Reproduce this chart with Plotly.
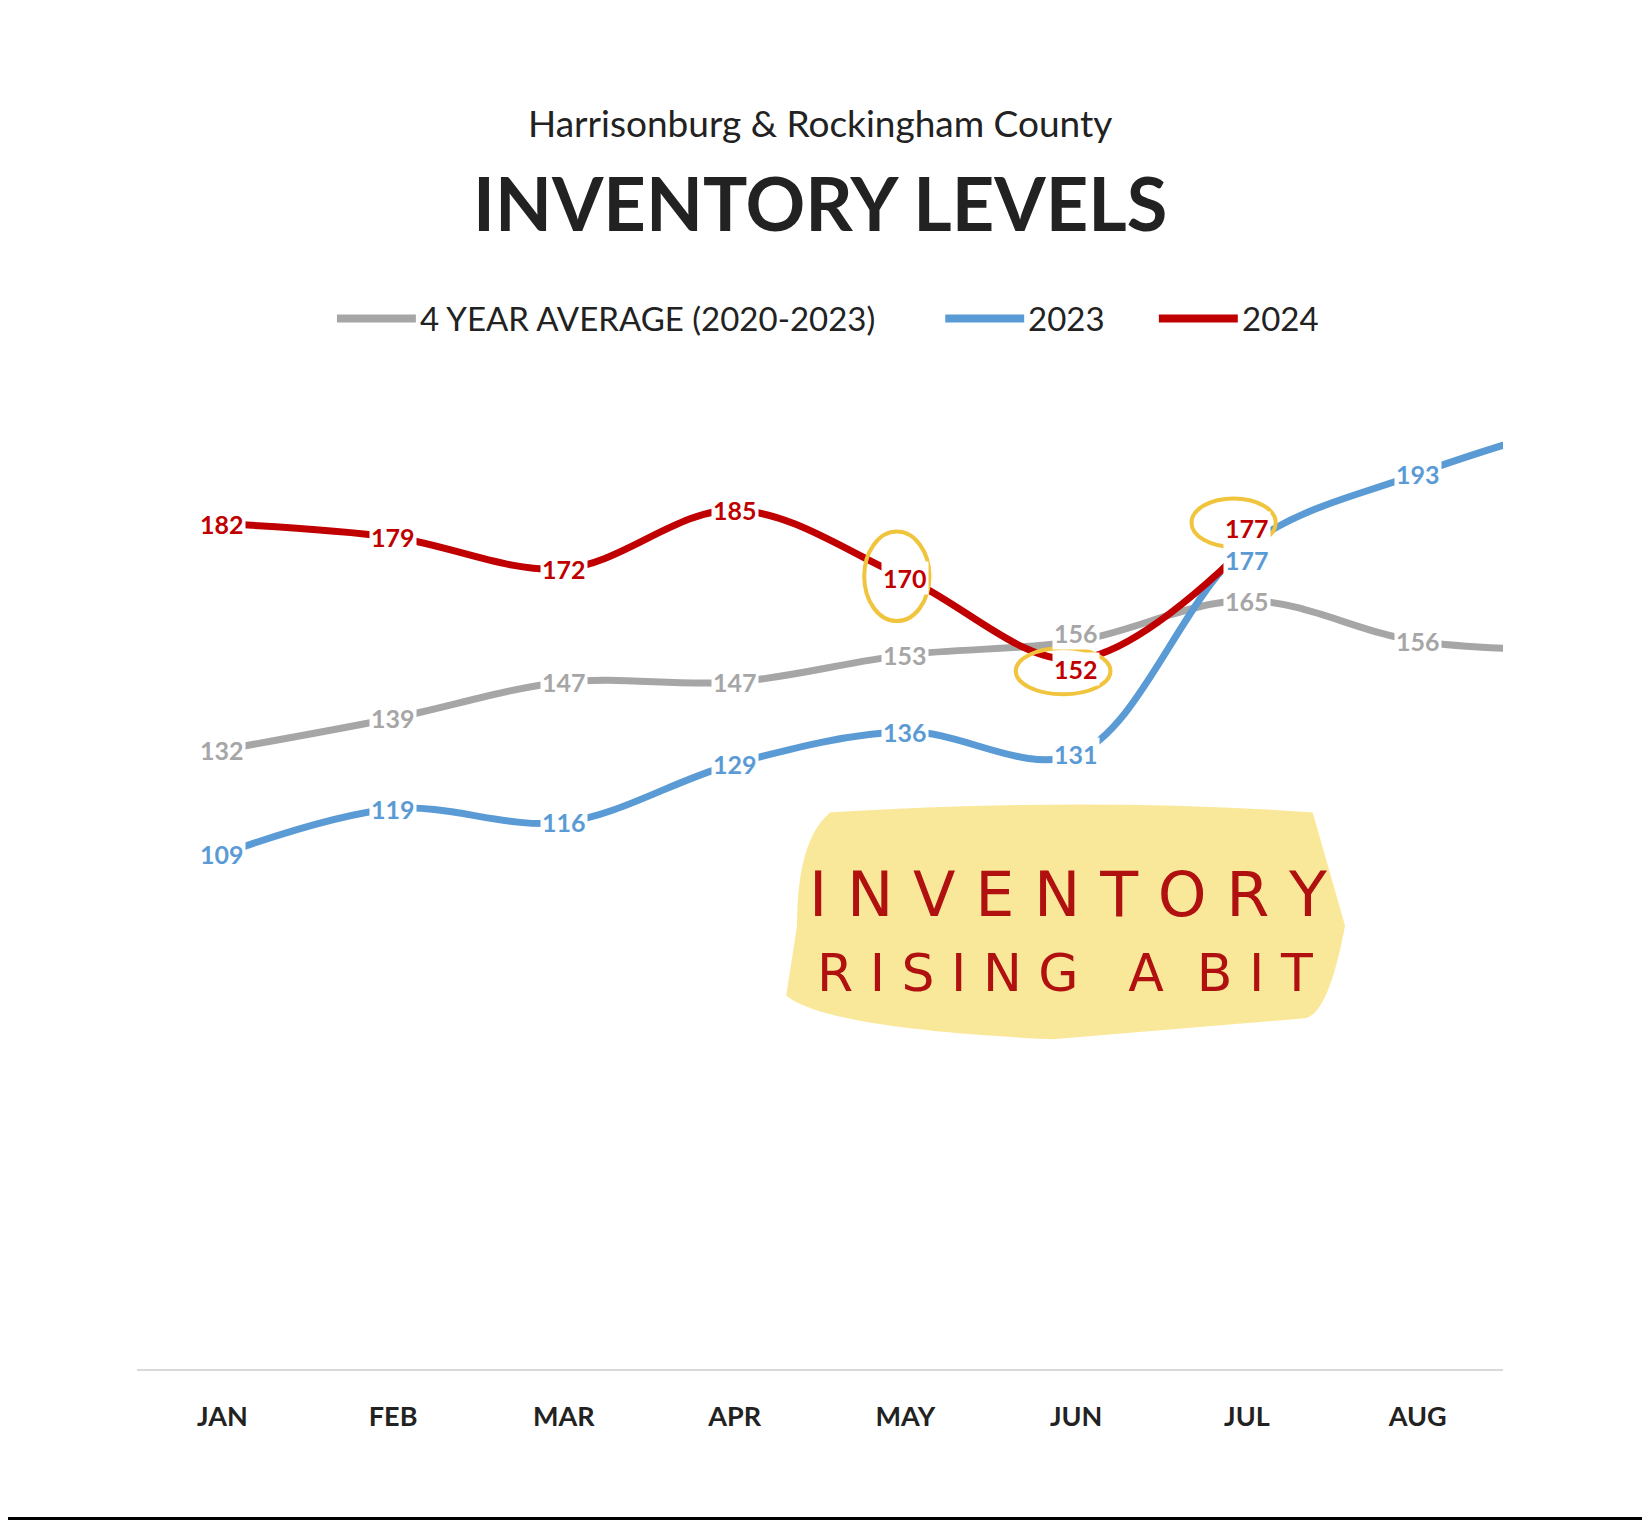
import plotly.graph_objects as go

months = ["JAN","FEB","MAR","APR","MAY","JUN","JUL","AUG"]
avg = [132,139,147,147,153,156,165,156,154]
y2023 = [109,119,116,129,136,131,177,193,205]
y2024 = [182,179,172,185,170,152,177]

S = 1650/1568
def px(x): return (x-130)/1298
def py(y): return (1302-y)/989

fig = go.Figure()
xs = list(range(9))
fig.add_trace(go.Scatter(x=xs, y=avg, mode="lines", line=dict(color="#a6a6a6", width=7, shape="spline"), hoverinfo="skip"))
fig.add_trace(go.Scatter(x=xs, y=y2023, mode="lines", line=dict(color="#5b9bd5", width=7, shape="spline"), hoverinfo="skip"))
fig.add_trace(go.Scatter(x=xs[:7], y=y2024, mode="lines", line=dict(color="#c00000", width=7, shape="spline"), hoverinfo="skip"))

ann = []
def lab(i, v, col, dy=0):
    ann.append(dict(x=i, y=v, xref="x", yref="y", text="<b>%d</b>" % v, showarrow=False,
                    xanchor="center", yanchor="middle",
                    font=dict(family="Lato", size=25, color=col), bgcolor="white", borderpad=1, yshift=dy))
for i, v in enumerate(avg[:8]):
    lab(i, v, "#a6a6a6", 8 if i == 5 else 0)
for i, v in enumerate(y2023[:8]):
    lab(i, v, "#5b9bd5", -14 if i == 6 else 0)
for i, v in enumerate(y2024):
    lab(i, v, "#c00000", 18 if i == 6 else (-10 if i == 5 else 0))

def pann(x, y, text, size, anchor="center", color="#222", family="Lato"):
    ann.append(dict(x=x, y=y, xref="paper", yref="paper", text=text, showarrow=False,
                    xanchor=anchor, yanchor="middle", font=dict(family=family, size=size, color=color)))

pann(0.5, py(117), "Harrisonburg &amp; Rockingham County", 37)
pann(0.5, py(193), "<b>INVENTORY LEVELS</b>", 74)

shapes = []
for x0, x1, col, txt in [(320,395,"#a6a6a6","4 YEAR AVERAGE (2020-2023)"),(898,973,"#5b9bd5","2023"),(1101,1176,"#c00000","2024")]:
    shapes.append(dict(type="line", xref="paper", yref="paper", x0=px(x0), x1=px(x1), y0=py(303), y1=py(303),
                       line=dict(color=col, width=8)))
    pann(px(x1+2), py(303), txt, 33, anchor="left")

# sticky note
shapes.append(dict(type="path", xref="paper", yref="paper",
    path="M %f %f Q %f %f %f %f L %f %f Q %f %f %f %f L %f %f Q %f %f %f %f L %f %f Q %f %f %f %f Z" % (
        px(790), py(775), px(1030), py(760), px(1245), py(775), px(1275), py(880), px(1260), py(960), px(1240), py(965),
        px(1000), py(985), px(790), py(975), px(750), py(945), px(760), py(880), px(760), py(800), px(790), py(775)),
    fillcolor="#fae89a", line=dict(color="#fae89a", width=6), layer="below"))
pann(px(1015), py(850), "I N V E N T O R Y", 62, color="#b01010", family="DejaVu Sans")
pann(px(1012), py(925), "R I S I N G &nbsp; A &nbsp;B I T", 52, color="#b01010", family="DejaVu Sans")

for cx, cy, w, h in [(852,548,62,85),(1010,638,90,44),(1172,497,80,46)]:
    shapes.append(dict(type="circle", xref="paper", yref="paper", x0=px(cx-w/2), x1=px(cx+w/2), y0=py(cy-h/2), y1=py(cy+h/2),
                       line=dict(color="#f0c43c", width=4)))

shapes.append(dict(type="line", xref="paper", yref="paper", x0=0, x1=1, y0=0, y1=0, line=dict(color="#d9d9d9", width=2)))
shapes.append(dict(type="rect", xref="paper", yref="paper", x0=px(3), x1=px(1565), y0=py(1443), y1=py(3),
                   line=dict(color="black", width=3)))

L = round(130*S) - 8
T = round(313*S) - 8
PW = round(1298*S)
PH = round(989*S)
fig.update_layout(
    width=1650, height=1522, paper_bgcolor="white", plot_bgcolor="white", showlegend=False,
    margin=dict(l=L, r=1650-L-PW, t=T, b=1522-T-PH),
    xaxis=dict(range=[-0.5, 7.5], tickvals=list(range(8)), ticktext=["<b>%s</b>" % m for m in months],
               showgrid=False, zeroline=False, showline=False, ticks="", ticklabelstandoff=28,
               tickfont=dict(family="Lato", size=27, color="#222")),
    yaxis=dict(range=[-5, 225], visible=False),
    annotations=ann, shapes=shapes,
)
fig.write_html("out.html")
